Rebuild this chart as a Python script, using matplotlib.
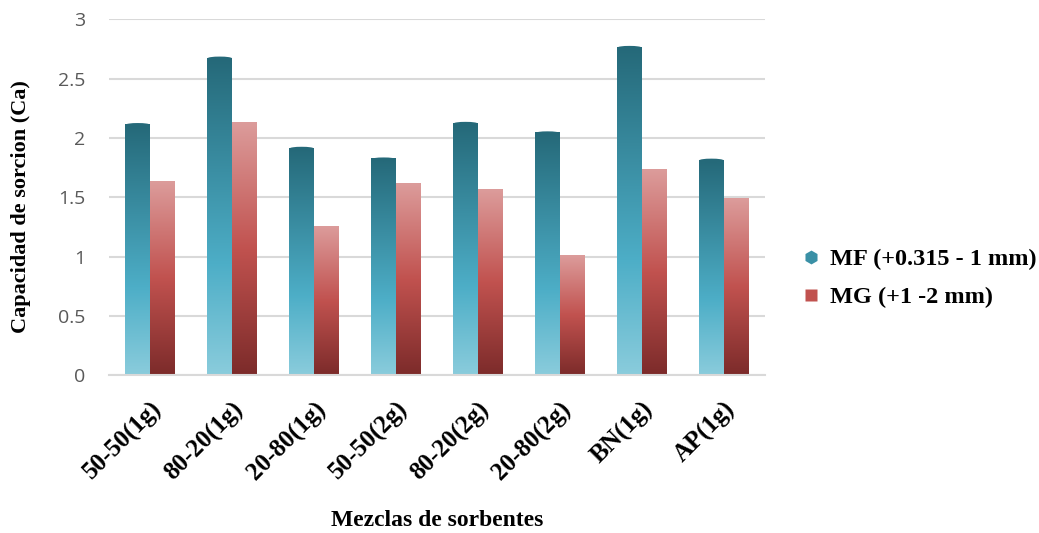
import numpy as np
import matplotlib
matplotlib.use("Agg")
import matplotlib.pyplot as plt
from matplotlib.colors import LinearSegmentedColormap
from matplotlib.patches import Ellipse
from matplotlib.lines import Line2D

categories = ["50-50(1g)", "80-20(1g)", "20-80(1g)", "50-50(2g)",
              "80-20(2g)", "20-80(2g)", "BN(1g)", "AP(1g)"]
mf_values = [2.11, 2.67, 1.91, 1.82, 2.12, 2.04, 2.76, 1.81]
mg_values = [1.63, 2.13, 1.25, 1.61, 1.56, 1.01, 1.73, 1.49]
mf_label = "MF (+0.315 - 1 mm)"
mg_label = "MG (+1 -2 mm)"
y_ticks = [0, 0.5, 1, 1.5, 2, 2.5, 3]

mf_cmap = LinearSegmentedColormap.from_list(
    "mf", [(0.0, "#8ACCDC"), (0.35, "#4DAEC7"), (1.0, "#256979")])
mg_cmap = LinearSegmentedColormap.from_list(
    "mg", [(0.0, "#7C2B2A"), (0.5, "#C1524F"), (1.0, "#DC9C9B")])

fig = plt.figure(figsize=(10.39, 5.33), dpi=100)
ax = fig.add_axes([0.105, 0.296, 0.631, 0.668])

x = np.arange(len(categories))
w = 0.3
grad = np.linspace(0, 1, 256).reshape(-1, 1)

mf_bars = ax.bar(x - w / 2, mf_values, w, color="none", zorder=2)
mg_bars = ax.bar(x + w / 2, mg_values, w, color="none", zorder=2)

# vertical gradient fill for each bar, with a shallow rounded cap on MF
for bars, cmap, cap in ((mf_bars, mf_cmap, True), (mg_bars, mg_cmap, False)):
    for r in bars:
        x0, bw, h = r.get_x(), r.get_width(), r.get_height()
        ax.imshow(grad, cmap=cmap, extent=[x0, x0 + bw, 0, h],
                  origin="lower", aspect="auto", zorder=2, interpolation="bilinear")
        if cap:
            ax.add_patch(Ellipse((x0 + bw / 2, h), bw, 0.03,
                                 facecolor=cmap(1.0), edgecolor="none", zorder=3))

ax.set_xlim(-0.5, len(categories) - 0.5)
ax.set_ylim(0, 3)
ax.set_yticks(y_ticks)
ax.set_yticklabels([f"{t:g}" for t in y_ticks], fontsize=14, color="#595959",
                   family="Open Sans")
ax.set_xticks(x)
ax.set_xticklabels(categories, rotation=45, ha="right", rotation_mode="anchor",
                   fontsize=18, fontweight="bold", family="Liberation Serif")
ax.tick_params(axis="both", length=0)
ax.tick_params(axis="y", pad=17)
ax.tick_params(axis="x", pad=16)

ax.grid(axis="y", color="#D9D9D9", linewidth=1.5, zorder=0)
ax.set_axisbelow(True)
for s in ("left", "right", "top"):
    ax.spines[s].set_visible(False)
ax.spines["bottom"].set_color("#D9D9D9")
ax.spines["bottom"].set_linewidth(1.5)

ax.set_ylabel("Capacidad de sorcion (Ca)", fontsize=16, fontweight="bold",
              family="Liberation Serif")
ax.yaxis.set_label_coords(-0.119, 0.475)
ax.set_xlabel("Mezclas de sorbentes", fontsize=17, fontweight="bold",
              family="Liberation Serif", labelpad=18)

handles = [
    Line2D([], [], marker="h", linestyle="none", markersize=10,
           markerfacecolor="#3A90A6", markeredgecolor="none"),
    Line2D([], [], marker="s", linestyle="none", markersize=9,
           markerfacecolor="#C1524F", markeredgecolor="none"),
]
fig.legend(handles, [mf_label, mg_label], loc="center left",
           bbox_to_anchor=(0.771, 0.478), frameon=False, handlelength=0.8,
           handletextpad=0.4, labelspacing=0.65, borderpad=0, borderaxespad=0,
           prop={"family": "Liberation Serif", "weight": "bold", "size": 17.5})

fig.savefig("out.png", dpi=100)
